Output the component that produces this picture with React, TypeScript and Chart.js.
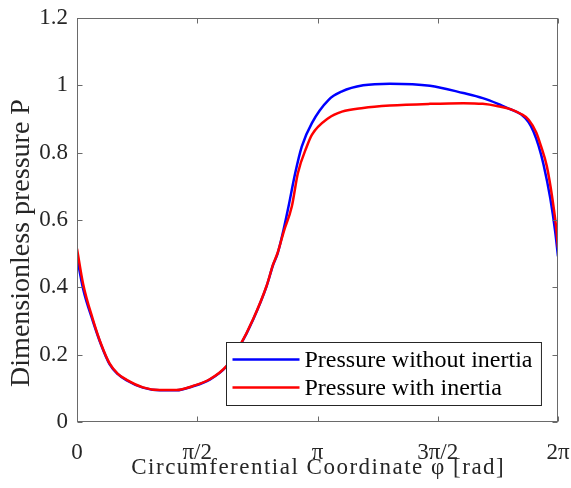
import React, { useEffect, useRef } from "react";
import { Chart, registerables } from "chart.js";

Chart.register(...registerables);

// ---- data ----
const PHI_NO_INERTIA = [0, 0.08, 0.207, 0.317, 0.425, 0.534, 0.644, 0.861, 1.08, 1.3, 1.515, 1.734, 1.952, 2.126, 2.3, 2.476, 2.562, 2.62, 2.698, 2.763, 2.85, 2.937, 3.068, 3.287, 3.461, 3.738, 4.087, 4.61, 5.047, 5.3, 5.5, 5.65, 5.8, 5.9, 5.964, 6.03, 6.094, 6.182, 6.247, 6.283];
const P_NO_INERTIA = [0.49, 0.395, 0.3, 0.228, 0.172, 0.142, 0.124, 0.102, 0.094, 0.094, 0.106, 0.126, 0.165, 0.225, 0.304, 0.403, 0.467, 0.5, 0.571, 0.64, 0.739, 0.819, 0.888, 0.957, 0.982, 1.0, 1.005, 0.999, 0.977, 0.962, 0.945, 0.93, 0.914, 0.89, 0.862, 0.82, 0.765, 0.665, 0.565, 0.492];

const PHI_INERTIA = [0, 0.08, 0.207, 0.317, 0.425, 0.534, 0.644, 0.861, 1.08, 1.3, 1.515, 1.734, 1.952, 2.126, 2.3, 2.476, 2.562, 2.62, 2.7, 2.806, 2.885, 3.003, 3.068, 3.287, 3.461, 3.738, 4.087, 4.61, 5.047, 5.3, 5.5, 5.65, 5.8, 5.9, 5.999, 6.06, 6.137, 6.212, 6.265, 6.283];
const P_INERTIA = [0.515, 0.41, 0.305, 0.23, 0.174, 0.143, 0.126, 0.103, 0.095, 0.095, 0.107, 0.127, 0.166, 0.226, 0.305, 0.404, 0.468, 0.502, 0.565, 0.64, 0.739, 0.819, 0.853, 0.903, 0.922, 0.933, 0.94, 0.945, 0.947, 0.945, 0.938, 0.93, 0.915, 0.898, 0.86, 0.82, 0.76, 0.66, 0.565, 0.517];

const SERIES_LABELS = ["Pressure without inertia", "Pressure with inertia"];
const SERIES_COLORS = ["#0000ff", "#ff0000"];

const X_TICKS = [0, Math.PI / 2, Math.PI, (3 * Math.PI) / 2, 2 * Math.PI];
const X_TICK_LABELS = ["0", "π/2", "π", "3π/2", "2π"];
const Y_TICKS = [0, 0.2, 0.4, 0.6, 0.8, 1, 1.2];
const Y_TICK_LABELS = ["0", "0.2", "0.4", "0.6", "0.8", "1", "1.2"];

const X_TITLE = "Circumferential Coordinate φ [rad]";
const Y_TITLE = "Dimensionless pressure P";

const SERIF = "'Liberation Serif', 'Times New Roman', serif";
const TEXT_COLOR = "#262626";
const AXIS_COLOR = "#6a6a6a";
const TICK_LEN = 5;

const framePlugin = {
  id: "matlabFrame",
  afterDatasetsDraw(chart: any) {
    const { ctx, chartArea: a, scales } = chart;
    ctx.save();
    const L = Math.round(a.left) + 0.5;
    const R = Math.round(a.right) - 0.5;
    const T = Math.round(a.top) + 0.5;
    const B = Math.round(a.bottom) - 0.5;
    ctx.strokeStyle = AXIS_COLOR;
    ctx.lineWidth = 1;
    ctx.strokeRect(L, T, R - L, B - T);
    ctx.beginPath();
    for (const v of X_TICKS) {
      const px = Math.round(scales.x.getPixelForValue(v)) + 0.5;
      ctx.moveTo(px, B);
      ctx.lineTo(px, B - TICK_LEN);
      ctx.moveTo(px, T);
      ctx.lineTo(px, T + TICK_LEN);
    }
    for (const v of Y_TICKS) {
      const py = Math.round(scales.y.getPixelForValue(v)) + 0.5;
      ctx.moveTo(L, py);
      ctx.lineTo(L + TICK_LEN, py);
      ctx.moveTo(R, py);
      ctx.lineTo(R - TICK_LEN, py);
    }
    ctx.stroke();

    // legend box
    ctx.font = `24px ${SERIF}`;
    const ds = chart.data.datasets;
    let textW = 0;
    for (const d of ds) textW = Math.max(textW, ctx.measureText(d.label).width);
    const lineLen = 67;
    const padL = 6;
    const gap = 5;
    const padR = 9;
    const boxW = padL + lineLen + gap + textW + padR;
    const boxH = 63;
    const boxRight = Math.round(a.right) - 17;
    const boxBottom = Math.round(a.bottom) - 17;
    const bx = Math.round(boxRight - boxW) + 0.5;
    const by = Math.round(boxBottom - boxH) + 0.5;
    ctx.fillStyle = "#ffffff";
    ctx.fillRect(bx, by, boxW, boxH);
    ctx.strokeStyle = "#262626";
    ctx.lineWidth = 1;
    ctx.strokeRect(bx, by, boxW, boxH);
    ds.forEach((d: any, i: number) => {
      const cy = by + 17 + i * 28;
      ctx.strokeStyle = d.borderColor;
      ctx.lineWidth = 2.5;
      ctx.beginPath();
      ctx.moveTo(bx + padL, cy);
      ctx.lineTo(bx + padL + lineLen, cy);
      ctx.stroke();
      ctx.fillStyle = "#000000";
      ctx.textAlign = "left";
      ctx.textBaseline = "middle";
      ctx.fillText(d.label, bx + padL + lineLen + gap, cy + 1);
    });
    ctx.restore();
  },
  afterDraw(chart: any) {
    const { ctx, chartArea: a } = chart;
    // y axis title
    ctx.save();
    ctx.font = `28px ${SERIF}`;
    ctx.fillStyle = TEXT_COLOR;
    ctx.textAlign = "center";
    ctx.textBaseline = "alphabetic";
    ctx.translate(29, (a.top + a.bottom) / 2 + 23);
    ctx.rotate(-Math.PI / 2);
    ctx.fillText(Y_TITLE, 0, 0);
    ctx.restore();
    // x axis title
    ctx.save();
    ctx.font = `23px ${SERIF}`;
    ctx.fillStyle = TEXT_COLOR;
    ctx.textAlign = "center";
    ctx.textBaseline = "alphabetic";
    const sp = 1.5;
    (ctx as any).letterSpacing = `${sp}px`;
    ctx.fillText(X_TITLE, (a.left + a.right) / 2 + sp / 2, 474);
    ctx.restore();
  },
};

export default function App() {
  const ref = useRef<HTMLCanvasElement | null>(null);

  useEffect(() => {
    if (!ref.current) return;
    const chart = new Chart(ref.current, {
      type: "line",
      data: {
        datasets: [
          {
            label: SERIES_LABELS[0],
            data: PHI_NO_INERTIA.map((x, i) => ({ x, y: P_NO_INERTIA[i] })),
            borderColor: SERIES_COLORS[0],
            backgroundColor: SERIES_COLORS[0],
            borderWidth: 2.5,
            pointRadius: 0,
            cubicInterpolationMode: "monotone",
            order: 2,
          },
          {
            label: SERIES_LABELS[1],
            data: PHI_INERTIA.map((x, i) => ({ x, y: P_INERTIA[i] })),
            borderColor: SERIES_COLORS[1],
            backgroundColor: SERIES_COLORS[1],
            borderWidth: 2.5,
            pointRadius: 0,
            cubicInterpolationMode: "monotone",
            order: 1,
          },
        ],
      },
      options: {
        responsive: false,
        animation: false,
        layout: { padding: { left: 0, right: 13, top: 18, bottom: 0 } },
        plugins: {
          legend: { display: false },
          tooltip: { enabled: false },
        },
        scales: {
          x: {
            type: "linear",
            min: 0,
            max: 2 * Math.PI,
            grid: { display: false, drawTicks: false },
            border: { display: false },
            afterBuildTicks: (s: any) => {
              s.ticks = X_TICKS.map((v) => ({ value: v }));
            },
            afterFit: (s: any) => {
              s.height = 66;
              s.paddingLeft = 0;
              s.paddingRight = 0;
            },
            ticks: {
              autoSkip: false,
              maxRotation: 0,
              padding: 17,
              color: TEXT_COLOR,
              font: { family: SERIF, size: 23 },
              callback: (_v: any, i: number) => X_TICK_LABELS[i],
            },
            title: { display: false },
          },
          y: {
            type: "linear",
            min: 0,
            max: 1.2,
            grid: { display: false, drawTicks: false },
            border: { display: false },
            afterBuildTicks: (s: any) => {
              s.ticks = Y_TICKS.map((v) => ({ value: v }));
            },
            afterFit: (s: any) => {
              s.width = 77;
              s.paddingTop = 0;
              s.paddingBottom = 0;
            },
            ticks: {
              autoSkip: false,
              padding: 9,
              color: TEXT_COLOR,
              font: { family: SERIF, size: 23 },
              callback: (_v: any, i: number) => Y_TICK_LABELS[i],
            },
            title: { display: false },
          },
        },
      },
      plugins: [framePlugin],
    } as any);
    return () => chart.destroy();
  }, []);

  return (
    <div style={{ position: "absolute", left: 0, top: 0, width: 571, height: 488, background: "#fff" }}>
      <canvas ref={ref} width={571} height={488} style={{ width: 571, height: 488, display: "block" }} />
    </div>
  );
}
